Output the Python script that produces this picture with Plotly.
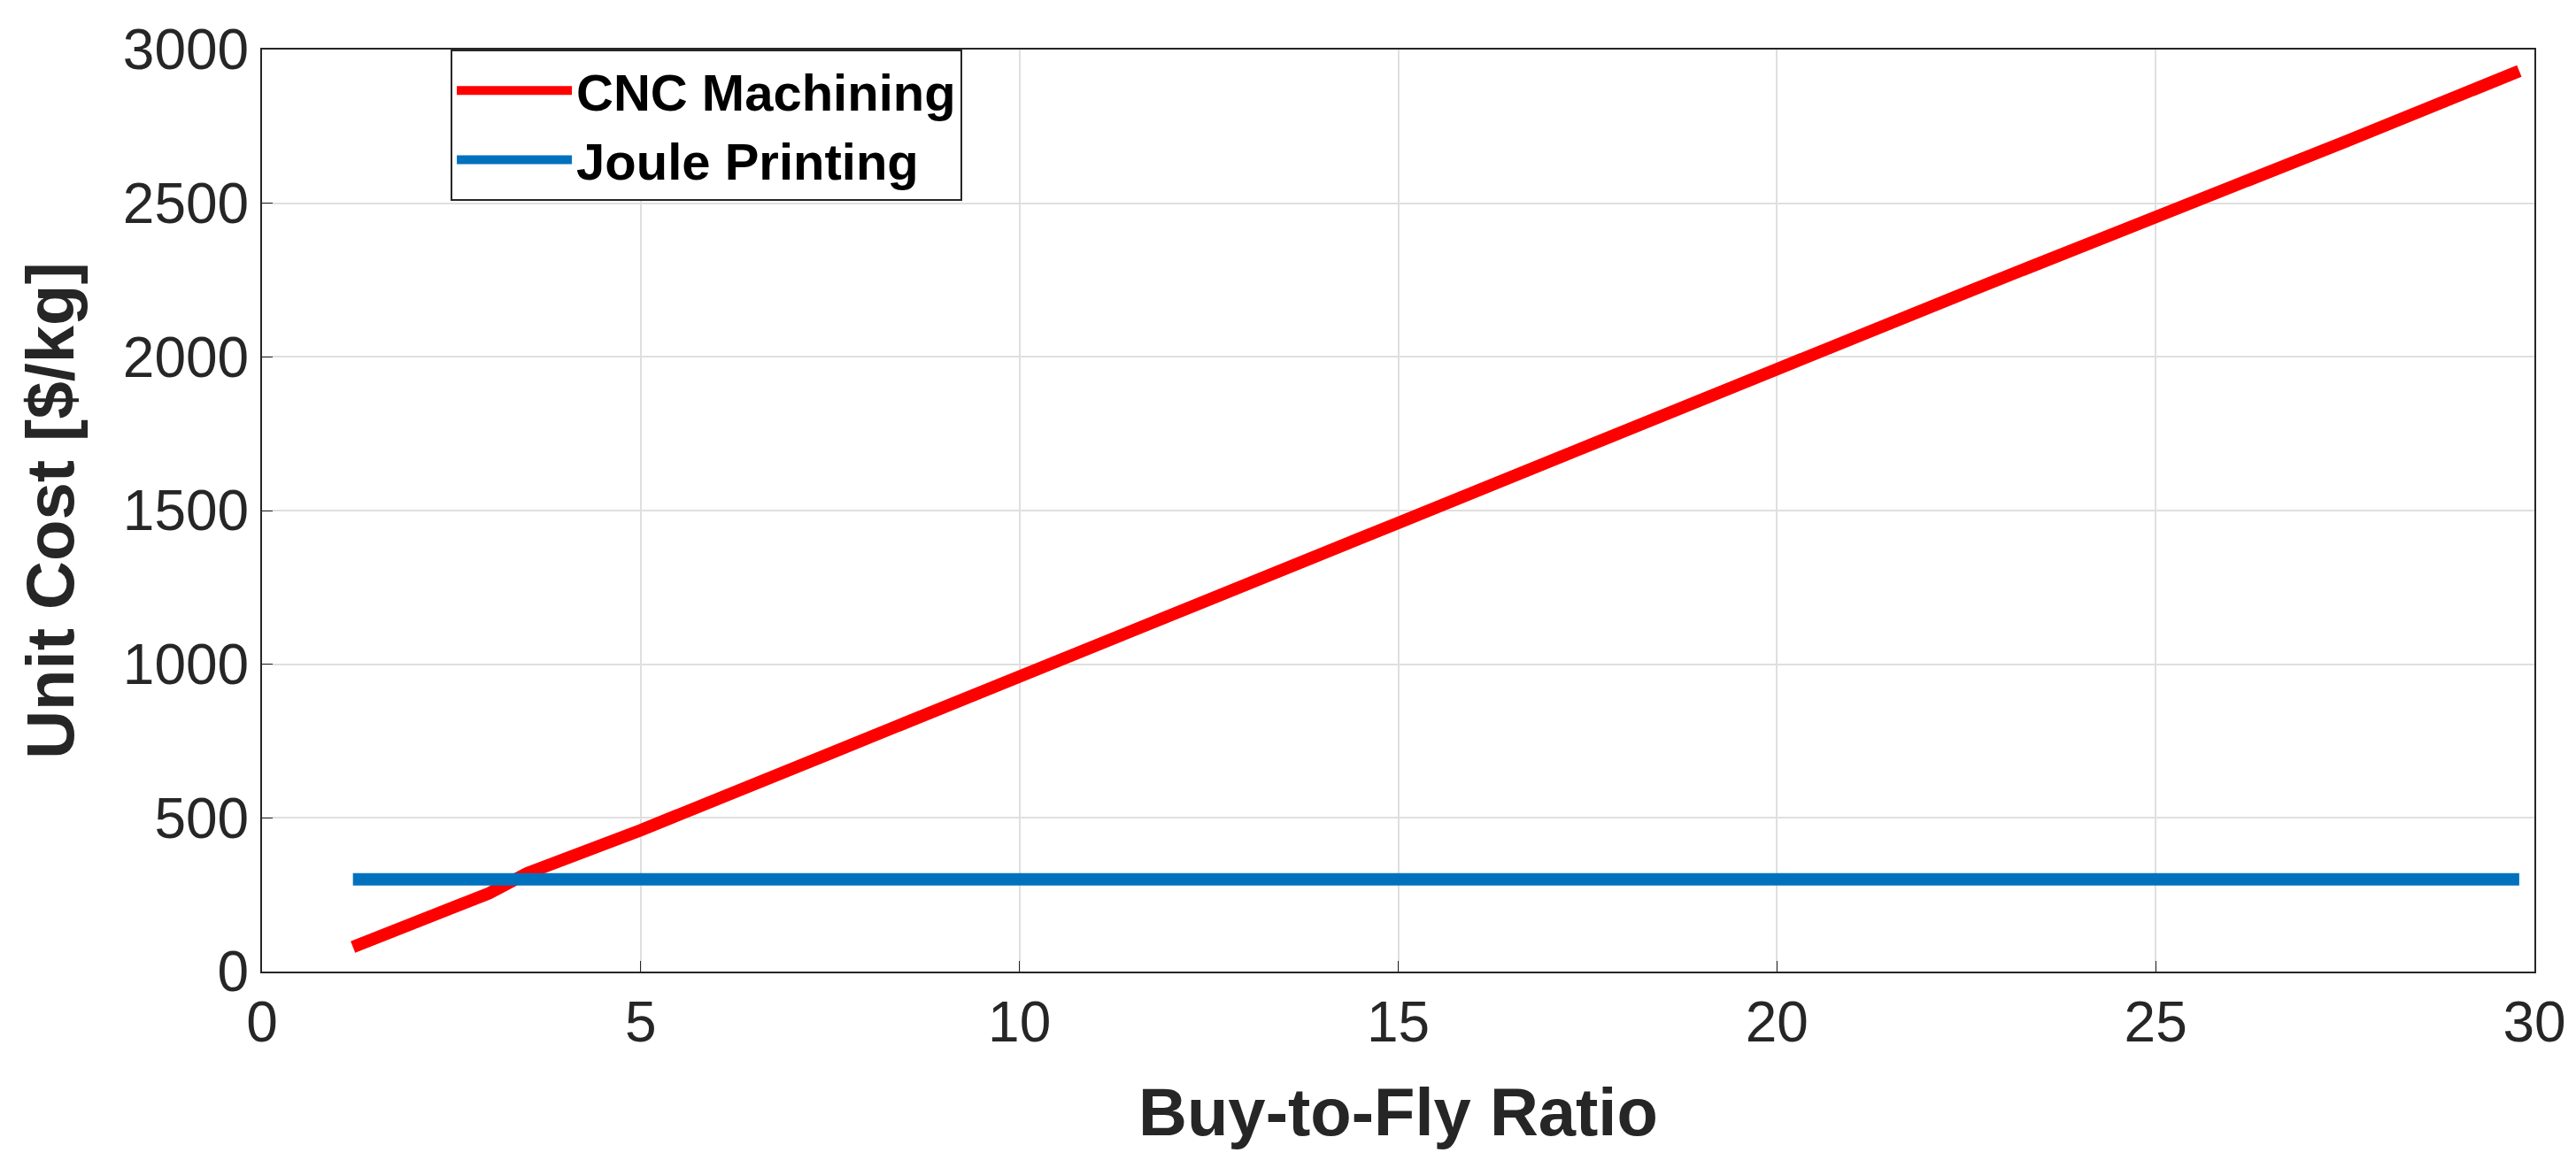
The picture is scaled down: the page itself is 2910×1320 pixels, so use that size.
import plotly.graph_objects as go

ratio = [1.2, 2, 3, 3.5, 4, 5, 7.5, 10, 11, 12.5, 15, 17.5, 18.5, 20, 22.5, 24.5, 25, 26.5, 27.5, 29.8]
cnc_cost = [80, 160, 255, 320, 365, 460, 710, 965, 1060, 1210, 1460, 1715, 1815, 1960, 2210, 2405, 2450, 2600, 2700, 2930]
joule_x = [1.2, 29.8]
joule_cost = [300, 300]

fig = go.Figure()
fig.add_trace(go.Scatter(x=ratio, y=cnc_cost, mode="lines", name="CNC Machining",
                         line=dict(color="#ff0000", width=14)))
fig.add_trace(go.Scatter(x=joule_x, y=joule_cost, mode="lines", name="Joule Printing",
                         line=dict(color="#0072bd", width=14)))

font = "Liberation Sans, Arial, sans-serif"
axis_common = dict(showline=True, linecolor="#262626", linewidth=2, mirror=True,
                   showgrid=True, gridcolor="#dfdfdf", gridwidth=2, zeroline=False,
                   ticks="inside", ticklen=12, tickcolor="#262626",
                   tickfont=dict(family=font, size=64, color="#262626"))
fig.update_layout(
    width=2910, height=1320, plot_bgcolor="white", paper_bgcolor="white",
    margin=dict(l=288, r=55, t=46, b=230),
    xaxis=dict(range=[0, 30], dtick=5, title=dict(text="<b>Buy-to-Fly Ratio</b>",
               font=dict(family=font, size=76, color="#262626"), standoff=40), **axis_common),
    yaxis=dict(range=[0, 3000], dtick=500, title=dict(text="<b>Unit Cost [$/kg]</b>",
               font=dict(family=font, size=76, color="#262626"), standoff=30), **axis_common),
    legend=dict(x=0.083, y=1, xanchor="left", yanchor="top", bgcolor="white",
                bordercolor="#262626", borderwidth=2,
                font=dict(family=font, size=58, color="black", weight="bold"),
                itemwidth=130, tracegroupgap=0),
    showlegend=True,
)
fig.write_html("out.html")
